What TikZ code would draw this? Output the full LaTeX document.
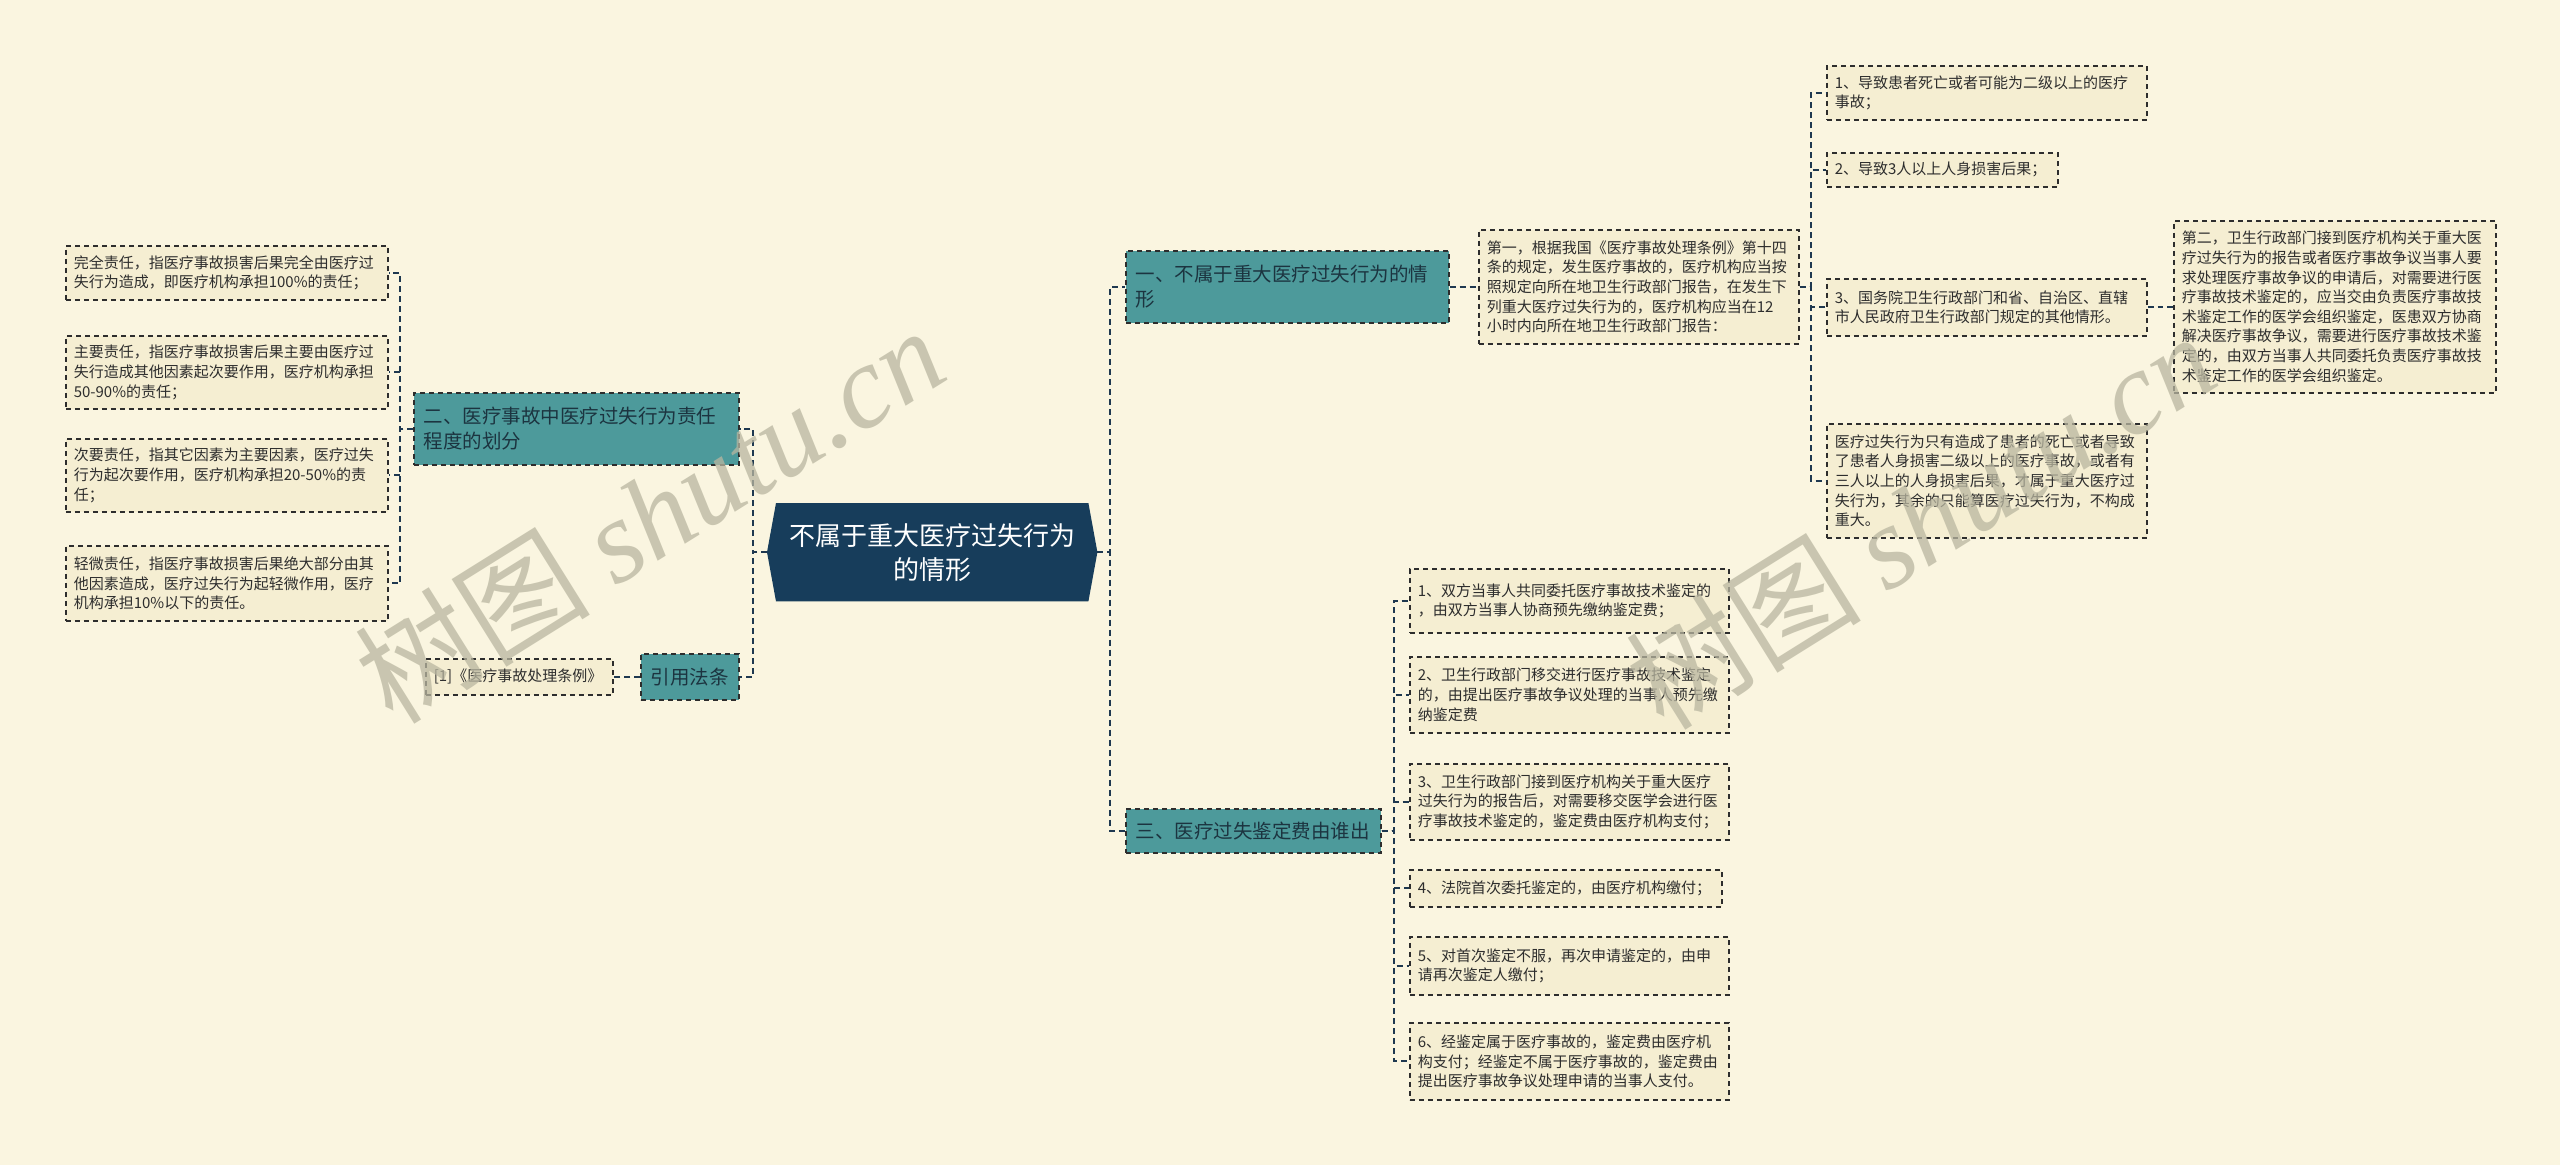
\documentclass[tikz,border=0pt]{standalone}
\usepackage{fontspec}
\setmainfont{Noto Sans CJK SC}
\newfontfamily\wmserif{Liberation Serif}
\newfontfamily\wmcjk{Noto Sans CJK SC}
\usetikzlibrary{calc}
\definecolor{pagebg}{RGB}{250,245,224}
\definecolor{boxfill}{RGB}{245,238,210}
\definecolor{boxline}{RGB}{45,45,45}
\definecolor{boxtext}{RGB}{45,45,45}
\definecolor{connline}{RGB}{30,56,80}
\definecolor{tealfill}{RGB}{77,154,155}
\definecolor{tealtext}{RGB}{28,52,64}
\definecolor{navyfill}{RGB}{23,61,91}
\definecolor{wmcol}{RGB}{185,182,160}
\pgfdeclarelayer{back}
\pgfdeclarelayer{mid}
\pgfsetlayers{back,mid,main}
\tikzset{
  leaf/.style={draw=boxline, fill=boxfill, line width=1.6pt, dash pattern=on 5pt off 4pt,
    anchor=north west, align=left, inner xsep=8pt, inner ysep=3pt, text=boxtext,
    font=\fontsize{15}{19.6}\selectfont},
  topic/.style={draw=boxline, fill=tealfill, line width=1.6pt, dash pattern=on 5pt off 4pt,
    anchor=north west, align=left, inner xsep=10pt, inner ysep=3pt, text=tealtext,
    font=\fontsize{19.5}{24.5}\selectfont},
  rootnode/.style={anchor=north west, align=center, inner sep=0pt, text=white,
    font=\fontsize{26}{34}\selectfont},
  conn/.style={draw=connline, line width=2pt, dash pattern=on 6pt off 4pt},
  wm/.style={text=wmcol, text opacity=0.75, inner sep=0pt, font=\fontsize{118}{118}\selectfont}
}
\begin{document}
\begin{tikzpicture}[x=1pt,y=-1pt]
\begin{pgfonlayer}{back}
\fill[pagebg] (0,0) rectangle (2560,1165);
\end{pgfonlayer}
\useasboundingbox (0,0) rectangle (2560,1165);

% bracket coordinates
\coordinate (lb) at (400,0);
\coordinate (cl) at (753,0);
\coordinate (cr) at (1110,0);
\coordinate (rb) at (1811,0);
\coordinate (fb) at (2159,0);
\coordinate (sb) at (1394,0);

% root
\node[rootnode, minimum width=330pt, minimum height=98pt, text width=310pt] (c) at (767,503)
  {不属于重大医疗过失行为\\的情形};
\begin{pgfonlayer}{mid}
\fill[navyfill] ([xshift=9pt]c.north west) -- ([xshift=-9pt]c.north east) -- (c.east)
  -- ([xshift=-9pt]c.south east) -- ([xshift=9pt]c.south west) -- (c.west) -- cycle;
\end{pgfonlayer}

% left side
\node[topic, text width=305pt, minimum height=72pt] (t2) at (413,392)
  {二、医疗事故中医疗过失行为责任\\程度的划分};
\node[leaf, text width=306pt, minimum height=54pt] (l1) at (65,245)
  {完全责任，指医疗事故损害后果完全由医疗过\\失行为造成，即医疗机构承担100\%的责任；};
\node[leaf, text width=306pt, minimum height=73pt] (l2) at (65,335)
  {主要责任，指医疗事故损害后果主要由医疗过\\失行造成其他因素起次要作用，医疗机构承担\\50-90\%的责任；};
\node[leaf, text width=306pt, minimum height=73pt] (l3) at (65,438)
  {次要责任，指其它因素为主要因素，医疗过失\\行为起次要作用，医疗机构承担20-50\%的责\\任；};
\node[leaf, text width=306pt, minimum height=75pt] (l4) at (65,545)
  {轻微责任，指医疗事故损害后果绝大部分由其\\他因素造成，医疗过失行为起轻微作用，医疗\\机构承担10\%以下的责任。};
\node[topic, text width=78pt, minimum height=46pt] (law) at (640,653) {引用法条};
\node[leaf, text width=171pt, minimum height=36pt] (ref) at (425,658) {[1]《医疗事故处理条例》};

% right side, branch one
\node[topic, text width=303pt, minimum height=72pt] (t1) at (1125,250)
  {一、不属于重大医疗过失行为的情\\形};
\node[leaf, text width=304pt, minimum height=114pt] (f1) at (1478,229)
  {第一，根据我国《医疗事故处理条例》第十四\\条的规定，发生医疗事故的，医疗机构应当按\\照规定向所在地卫生行政部门报告，在发生下\\列重大医疗过失行为的，医疗机构应当在12\\小时内向所在地卫生行政部门报告：};
\node[leaf, text width=304pt, minimum height=54pt] (r1) at (1826,65)
  {1、导致患者死亡或者可能为二级以上的医疗\\事故；};
\node[leaf, text width=215pt, minimum height=34pt] (r2) at (1826,152)
  {2、导致3人以上人身损害后果；};
\node[leaf, text width=304pt, minimum height=57pt] (r3) at (1826,278)
  {3、国务院卫生行政部门和省、自治区、直辖\\市人民政府卫生行政部门规定的其他情形。};
\node[leaf, text width=304pt, minimum height=114pt] (r4) at (1826,423)
  {医疗过失行为只有造成了患者的死亡或者导致\\了患者人身损害二级以上的医疗事故，或者有\\三人以上的人身损害后果，才属于重大医疗过\\失行为，其余的只能算医疗过失行为，不构成\\重大。};
\node[leaf, text width=306pt, minimum height=172pt] (f2) at (2173,220)
  {第二，卫生行政部门接到医疗机构关于重大医\\疗过失行为的报告或者医疗事故争议当事人要\\求处理医疗事故争议的申请后，对需要进行医\\疗事故技术鉴定的，应当交由负责医疗事故技\\术鉴定工作的医学会组织鉴定，医患双方协商\\解决医疗事故争议，需要进行医疗事故技术鉴\\定的，由双方当事人共同委托负责医疗事故技\\术鉴定工作的医学会组织鉴定。};

% right side, branch three
\node[topic, text width=235pt, minimum height=44pt] (t3) at (1125,808)
  {三、医疗过失鉴定费由谁出};
\node[leaf, text width=303pt, minimum height=64pt] (s1) at (1409,568)
  {1、双方当事人共同委托医疗事故技术鉴定的\\，由双方当事人协商预先缴纳鉴定费；};
\node[leaf, text width=303pt, minimum height=76pt] (s2) at (1409,656)
  {2、卫生行政部门移交进行医疗事故技术鉴定\\的，由提出医疗事故争议处理的当事人预先缴\\纳鉴定费};
\node[leaf, text width=303pt, minimum height=76pt] (s3) at (1409,763)
  {3、卫生行政部门接到医疗机构关于重大医疗\\过失行为的报告后，对需要移交医学会进行医\\疗事故技术鉴定的，鉴定费由医疗机构支付；};
\node[leaf, text width=296pt, minimum height=37pt] (s4) at (1409,869)
  {4、法院首次委托鉴定的，由医疗机构缴付；};
\node[leaf, text width=303pt, minimum height=58pt] (s5) at (1409,936)
  {5、对首次鉴定不服，再次申请鉴定的，由申\\请再次鉴定人缴付；};
\node[leaf, text width=303pt, minimum height=77pt] (s6) at (1409,1022)
  {6、经鉴定属于医疗事故的，鉴定费由医疗机\\构支付；经鉴定不属于医疗事故的，鉴定费由\\提出医疗事故争议处理申请的当事人支付。};

% connectors
\foreach \n in {t2,law}
  \draw[conn] (c.west) -- (c.west -| cl) |- (\n.east);
\foreach \n in {t1,t3}
  \draw[conn] (c.east) -- (c.east -| cr) |- (\n.west);
\foreach \n in {l1,l2,l3,l4}
  \draw[conn] (t2.west) -- (t2.west -| lb) |- (\n.east);
\draw[conn] (law.west) -- (ref.east);
\draw[conn] (t1.east) -- (f1.west);
\foreach \n in {r1,r2,r3,r4}
  \draw[conn] (f1.east) -- (f1.east -| rb) |- (\n.west);
\draw[conn] (r3.east) -- (r3.east -| fb) |- (f2.west);
\foreach \n in {s1,s2,s3,s4,s5,s6}
  \draw[conn] (t3.east) -- (t3.east -| sb) |- (\n.west);

% watermark
\node[wm, rotate=32] (wm1) at (649,514) {{\wmcjk 树图} {\wmserif\itshape shutu.cn}};
\node[wm, rotate=32] (wm2) at (1920,520) {{\wmcjk 树图} {\wmserif\itshape shutu.cn}};
\end{tikzpicture}
\end{document}
